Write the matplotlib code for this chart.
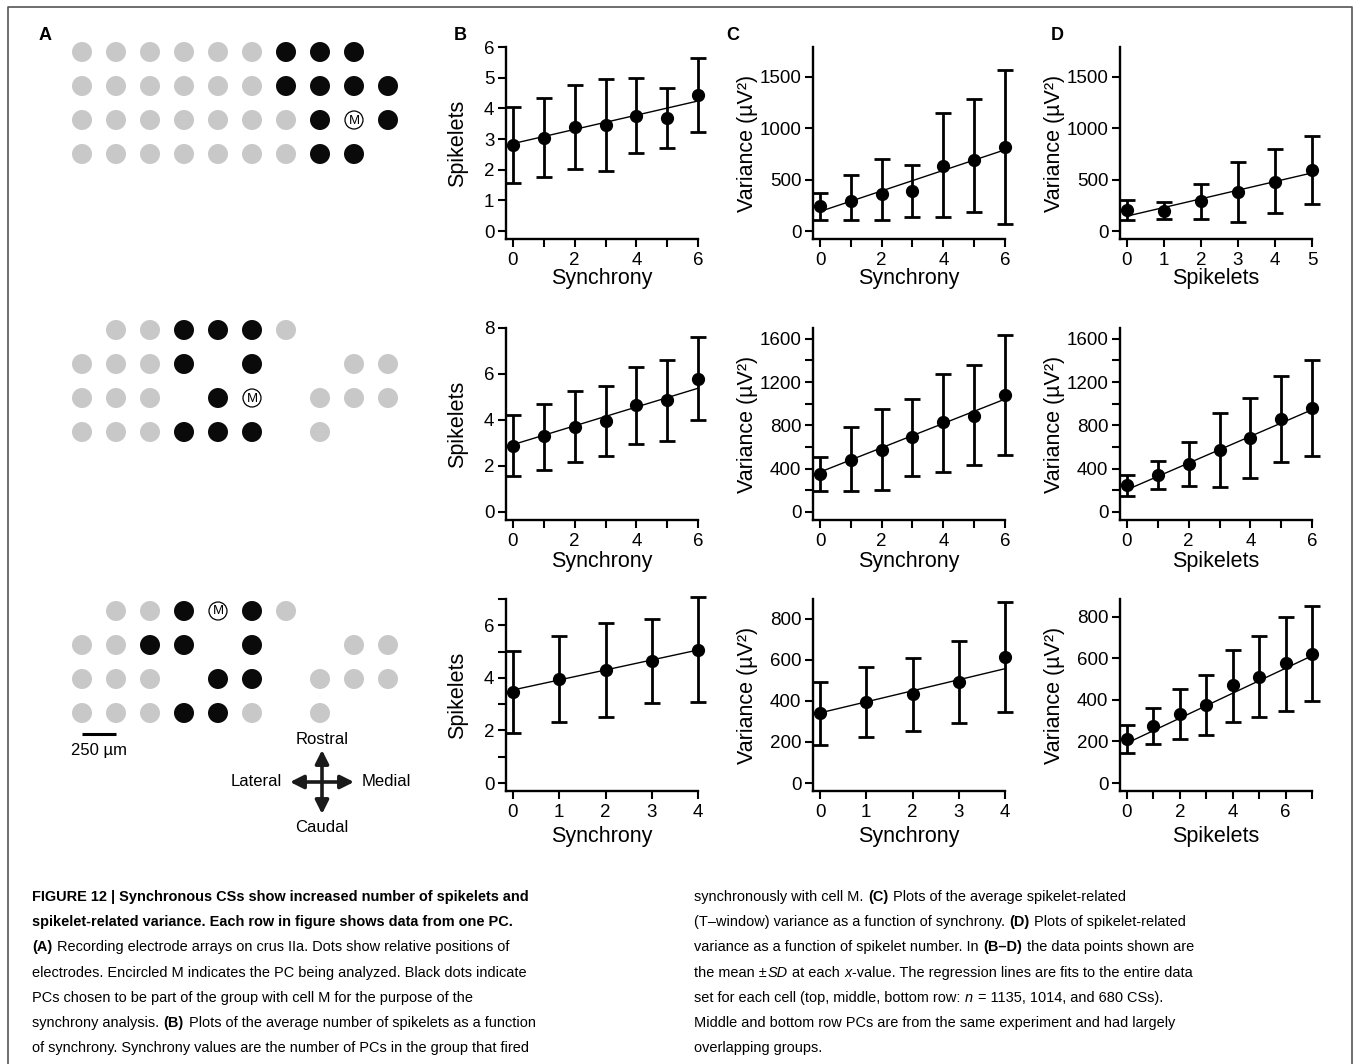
### 1. MODULE IMPORTS
import matplotlib
matplotlib.use('Agg')
from matplotlib import pyplot as plt
from matplotlib.patches import Circle

### 2. DATA
# panel A electrode arrays (g = grey, b = black / in group, M = analysed cell, . = none)
array_top = ['ggggggbbb.', 'ggggggbbbb', 'gggggggbMb', 'gggggggbb.']
array_mid = ['.ggbbbg...', 'gggb.b..gg', 'ggg.bM.ggg', 'gggbbb.g..']
array_bot = ['.ggbMbg...', 'ggbb.b..gg', 'ggg.bb.ggg', 'gggbbg.g..']

# row 1
sync_r1 = [0, 1, 2, 3, 4, 5, 6]
spk_r1_mean = [2.80, 3.04, 3.38, 3.46, 3.76, 3.68, 4.42]
spk_r1_lo = [1.57, 1.76, 2.02, 1.95, 2.54, 2.71, 3.22]
spk_r1_hi = [4.05, 4.34, 4.77, 4.97, 5.00, 4.66, 5.63]
spk_r1_fit = [2.85, 4.24]
var_sync_r1_mean = [244, 287, 364, 393, 636, 692, 815]
var_sync_r1_lo = [107, 107, 107, 140, 133, 182, 68]
var_sync_r1_hi = [367, 540, 698, 646, 1146, 1280, 1568]
var_sync_r1_fit = [190, 790]
spkx_r1 = [0, 1, 2, 3, 4, 5]
var_spk_r1_mean = [205, 198, 289, 380, 477, 594]
var_spk_r1_lo = [107, 114, 117, 91, 172, 260]
var_spk_r1_hi = [302, 282, 458, 672, 802, 929]
var_spk_r1_fit = [145, 565]

# row 2
sync_r2 = [0, 1, 2, 3, 4, 5, 6]
spk_r2_mean = [2.88, 3.29, 3.71, 3.94, 4.64, 4.87, 5.78]
spk_r2_lo = [1.58, 1.84, 2.16, 2.43, 2.97, 3.10, 3.99]
spk_r2_hi = [4.20, 4.70, 5.25, 5.48, 6.30, 6.62, 7.59]
spk_r2_fit = [2.93, 5.38]
var_sync_r2_mean = [348, 483, 575, 689, 828, 889, 1080]
var_sync_r2_lo = [191, 194, 200, 329, 372, 431, 529]
var_sync_r2_hi = [505, 782, 954, 1043, 1277, 1357, 1637]
var_sync_r2_fit = [369, 1043]
spkx_r2 = [0, 1, 2, 3, 4, 5, 6]
var_spk_r2_mean = [246, 345, 443, 572, 683, 862, 957]
var_spk_r2_lo = [145, 215, 237, 231, 314, 462, 514]
var_spk_r2_hi = [345, 474, 643, 911, 1049, 1258, 1400]
var_spk_r2_fit = [206, 945]

# row 3
sync_r3 = [0, 1, 2, 3, 4]
spk_r3_mean = [3.48, 3.95, 4.29, 4.65, 5.06]
spk_r3_lo = [1.92, 2.32, 2.52, 3.03, 3.08]
spk_r3_hi = [5.04, 5.58, 6.08, 6.25, 7.06]
spk_r3_fit = [3.54, 5.06]
var_sync_r3_mean = [339, 392, 435, 490, 613]
var_sync_r3_lo = [185, 222, 255, 292, 345]
var_sync_r3_hi = [493, 564, 608, 691, 882]
var_sync_r3_fit = [341, 556]
spkx_r3 = [0, 1, 2, 3, 4, 5, 6, 7]
var_spk_r3_mean = [212, 275, 333, 376, 472, 511, 578, 622]
var_spk_r3_lo = [145, 188, 212, 231, 294, 318, 347, 395]
var_spk_r3_hi = [280, 361, 453, 520, 641, 708, 800, 853]
var_spk_r3_fit = [192, 612]

caption_left = [
    [('FIGURE 12 | Synchronous CSs show increased number of spikelets and', 'b')],
    [('spikelet-related variance. Each row in figure shows data from one PC.', 'b')],
    [('(A)', 'b'), (' Recording electrode arrays on crus IIa. Dots show relative positions of', 'n')],
    [('electrodes. Encircled M indicates the PC being analyzed. Black dots indicate', 'n')],
    [('PCs chosen to be part of the group with cell M for the purpose of the', 'n')],
    [('synchrony analysis. ', 'n'), ('(B)', 'b'), (' Plots of the average number of spikelets as a function', 'n')],
    [('of synchrony. Synchrony values are the number of PCs in the group that fired', 'n')],
]
caption_right = [
    [('synchronously with cell M. ', 'n'), ('(C)', 'b'), (' Plots of the average spikelet-related', 'n')],
    [('(T–window) variance as a function of synchrony. ', 'n'), ('(D)', 'b'), (' Plots of spikelet-related', 'n')],
    [('variance as a function of spikelet number. In ', 'n'), ('(B–D)', 'b'), (' the data points shown are', 'n')],
    [('the mean ±', 'n'), ('SD', 'i'), (' at each ', 'n'), ('x', 'i'),
     ('-value. The regression lines are fits to the entire data', 'n')],
    [('set for each cell (top, middle, bottom row: ', 'n'), ('n', 'i'), (' = 1135, 1014, and 680 CSs).', 'n')],
    [('Middle and bottom row PCs are from the same experiment and had largely', 'n')],
    [('overlapping groups.', 'n')],
]

### 3. FIGURE SETUP
W, H, DPI = 1355, 1064, 100
plt.rcParams['font.family'] = ['Liberation Sans', 'DejaVu Sans']
fig = plt.figure(figsize=(W / DPI, H / DPI), dpi=DPI)
renderer = fig.canvas.get_renderer()

ov = fig.add_axes([0, 0, 1, 1], zorder=0)
ov.set_xlim(0, W)
ov.set_ylim(H, 0)
ov.axis('off')

# frame
ov.plot([8, 8, 1352, 1352], [H, 7, 7, H], color='#555555', lw=1.2)

### 4. PANEL A
x0, pitch = 82, 34
for arr, y0 in zip([array_top, array_mid, array_bot], [52, 330, 611]):
    for r, row in enumerate(arr):
        for c, ch in enumerate(row):
            cx, cy = x0 + c * pitch, y0 + r * pitch
            if ch == 'g':
                ov.add_patch(Circle((cx, cy), 10, color='#c8c8c8', lw=0))
            elif ch == 'b':
                ov.add_patch(Circle((cx, cy), 10, color='#0a0a0a', lw=0))
            elif ch == 'M':
                ov.add_patch(Circle((cx, cy), 9, facecolor='white', edgecolor='k', lw=0.9))
                ov.text(cx, cy + 0.5, 'M', ha='center', va='center', fontsize=9.5)

# scale bar
ov.plot([x0, x0 + pitch], [734, 734], color='k', lw=2.2, solid_capstyle='butt')
ov.text(x0 + pitch / 2, 751, '250 µm', ha='center', va='center', fontsize=12)

# compass
ccx, ccy, arm = 322, 782, 32
for dx, dy in [(1, 0), (-1, 0), (0, 1), (0, -1)]:
    ov.annotate('', xy=(ccx + dx * arm, ccy + dy * arm), xytext=(ccx, ccy),
                arrowprops=dict(arrowstyle='-|>', lw=2.6, color='#1a1a1a',
                                mutation_scale=20, shrinkA=0, shrinkB=0))
ov.text(ccx, 740, 'Rostral', ha='center', va='center', fontsize=12)
ov.text(ccx, 827, 'Caudal', ha='center', va='center', fontsize=12)
ov.text(282, ccy, 'Lateral', ha='right', va='center', fontsize=12)
ov.text(362, ccy, 'Medial', ha='left', va='center', fontsize=12)

# panel letters
for lab, lx in zip('ABCD', [45, 460, 733, 1057]):
    ov.text(lx, 35, lab, ha='center', va='center', fontsize=13, fontweight='bold')

### 5. PANELS B-D
def px_axes(l, t, r, b):
    ax = fig.add_axes([l / W, 1 - b / H, (r - l) / W, (b - t) / H], zorder=2)
    ax.patch.set_alpha(0)
    return ax

def draw_panel(ax, x, mean, lo, hi, fit, ymax, yticks, ylabs, xlabs, xlabel, ylabel, ylab_x, xlab_y):
    xmax = x[-1]
    ax.set_xlim(-7 * xmax / 185, xmax)
    ax.set_ylim(-8 * ymax / 184, ymax)
    ax.plot([x[0], x[-1]], fit, color='k', lw=1.0, zorder=2)
    yerr = [[m - l for m, l in zip(mean, lo)], [h - m for m, h in zip(mean, hi)]]
    ax.errorbar(x, mean, yerr=yerr, fmt='o', color='k', ms=8.5, capsize=5.5,
                elinewidth=2.0, capthick=2.0, clip_on=False, zorder=3)
    for s in ['top', 'right']:
        ax.spines[s].set_visible(False)
    for s in ['left', 'bottom']:
        ax.spines[s].set_linewidth(1.7)
    ax.set_xticks(x)
    ax.set_xticklabels(xlabs)
    ax.set_yticks(yticks)
    ax.set_yticklabels(ylabs)
    ax.tick_params(direction='out', length=5.8, width=1.5, labelsize=13.5)
    ax.tick_params(axis='x', pad=3.5)
    ax.tick_params(axis='y', pad=2.5)
    ax.set_xlabel(xlabel, fontsize=15.5)
    ax.set_ylabel(ylabel, fontsize=15.5)
    ax.xaxis.set_label_coords(0.5, xlab_y)
    ax.xaxis.label.set_va('center')
    ax.yaxis.set_label_coords(ylab_x, 0.5)
    ax.yaxis.label.set_va('center')

def even_labels(vals, step):
    return [str(v) if v % step == 0 else '' for v in vals]

var_label = 'Variance (µV²)'
col_left = [506, 813, 1120]
row_bottom = [239, 520, 791]
size = 192
xlab_rows = [-0.205, -0.215, -0.235]

panels = [
    # row 1
    (0, 0, sync_r1, spk_r1_mean, spk_r1_lo, spk_r1_hi, spk_r1_fit, 6,
     [0, 1, 2, 3, 4, 5, 6], None, even_labels(sync_r1, 2), 'Synchrony', 'Spikelets'),
    (0, 1, sync_r1, var_sync_r1_mean, var_sync_r1_lo, var_sync_r1_hi, var_sync_r1_fit, 1790,
     [0, 500, 1000, 1500], None, even_labels(sync_r1, 2), 'Synchrony', var_label),
    (0, 2, spkx_r1, var_spk_r1_mean, var_spk_r1_lo, var_spk_r1_hi, var_spk_r1_fit, 1790,
     [0, 500, 1000, 1500], None, [str(v) for v in spkx_r1], 'Spikelets', var_label),
    # row 2
    (1, 0, sync_r2, spk_r2_mean, spk_r2_lo, spk_r2_hi, spk_r2_fit, 8,
     [0, 2, 4, 6, 8], None, even_labels(sync_r2, 2), 'Synchrony', 'Spikelets'),
    (1, 1, sync_r2, var_sync_r2_mean, var_sync_r2_lo, var_sync_r2_hi, var_sync_r2_fit, 1700,
     list(range(0, 1601, 200)), 'even400', even_labels(sync_r2, 2), 'Synchrony', var_label),
    (1, 2, spkx_r2, var_spk_r2_mean, var_spk_r2_lo, var_spk_r2_hi, var_spk_r2_fit, 1700,
     list(range(0, 1601, 200)), 'even400', even_labels(spkx_r2, 2), 'Spikelets', var_label),
    # row 3
    (2, 0, sync_r3, spk_r3_mean, spk_r3_lo, spk_r3_hi, spk_r3_fit, 7,
     list(range(0, 8)), 'even2', [str(v) for v in sync_r3], 'Synchrony', 'Spikelets'),
    (2, 1, sync_r3, var_sync_r3_mean, var_sync_r3_lo, var_sync_r3_hi, var_sync_r3_fit, 895,
     [0, 200, 400, 600, 800], None, [str(v) for v in sync_r3], 'Synchrony', var_label),
    (2, 2, spkx_r3, var_spk_r3_mean, var_spk_r3_lo, var_spk_r3_hi, var_spk_r3_fit, 885,
     [0, 200, 400, 600, 800], None, even_labels(spkx_r3, 2), 'Spikelets', var_label),
]

for r, c, x, m, lo, hi, fit, ymax, yt, ymode, xl, xlab, ylab in panels:
    l, b = col_left[c], row_bottom[r]
    ax = px_axes(l, b - size, l + size, b)
    if ymode == 'even400':
        yl = even_labels(yt, 400)
    elif ymode == 'even2':
        yl = even_labels(yt, 2)
    else:
        yl = [str(v) for v in yt]
    ylab_x = -0.25 if c == 0 else -0.34
    draw_panel(ax, x, m, lo, hi, fit, ymax, yt, yl, xl, xlab, ylab, ylab_x, xlab_rows[r])

### 6. CAPTION
cap_family = ['Liberation Sans Narrow', 'Liberation Sans']
styles = {'n': dict(fontweight='normal', fontstyle='normal'),
          'b': dict(fontweight='bold', fontstyle='normal'),
          'i': dict(fontweight='normal', fontstyle='italic')}

def text_width(s, fs, st):
    t = fig.text(0, 0, s, fontsize=fs, family=cap_family, **styles[st])
    w = t.get_window_extent(renderer).width
    t.remove()
    return w

probe = 'of synchrony. Synchrony values are the number of PCs in the group that fired'
cap_fs = min(13, 1.07 * 10 * 463 / text_width(probe, 10, 'n'))
space_w = {st: text_width('a a', cap_fs, st) - text_width('aa', cap_fs, st) for st in styles}

def place_line(x, y, runs):
    # each run is one text object; only the spaces at its ends are added by hand
    cx = x
    for text, st in runs:
        core = text.strip(' ')
        if text.startswith(' '):
            cx += space_w['n']
        t = fig.text(cx / W, 1 - y / H, core, fontsize=cap_fs, family=cap_family,
                     ha='left', va='baseline', **styles[st])
        cx += t.get_window_extent(renderer).width + 0.6
        if text.endswith(' '):
            cx += space_w['n']

for i, line in enumerate(caption_left):
    place_line(32, 901 + 25.2 * i, line)
for i, line in enumerate(caption_right):
    place_line(694, 901 + 25.2 * i, line)

### 7. EXPORT
fig.savefig('out.png', dpi=DPI)
